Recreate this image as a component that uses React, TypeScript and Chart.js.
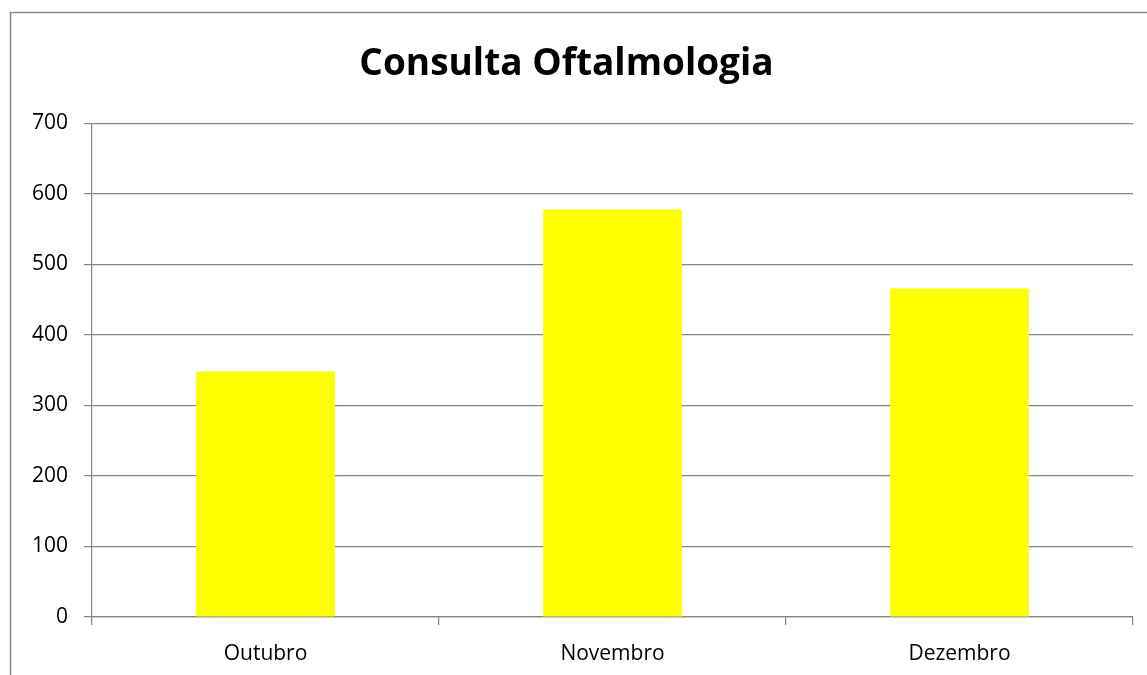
import React, { useEffect, useRef } from "react";
import { Chart, registerables } from "chart.js";

Chart.register(...registerables);

const TITLE = "Consulta Oftalmologia";
const categories = ["Outubro", "Novembro", "Dezembro"];
const consultas = [348, 578, 466];
const yTicks = [0, 100, 200, 300, 400, 500, 600, 700];

const GRAY = "#868686";

const framePlugin = {
  id: "frame",
  beforeDraw(chart: any) {
    const ctx = chart.ctx;
    ctx.save();
    ctx.fillStyle = "#ffffff";
    ctx.fillRect(0, 0, chart.width, chart.height);
    ctx.strokeStyle = GRAY;
    ctx.lineWidth = 1.5;
    ctx.beginPath();
    ctx.moveTo(10.5, chart.height + 5);
    ctx.lineTo(10.5, 12.5);
    ctx.lineTo(chart.width + 5, 12.5);
    ctx.stroke();
    ctx.restore();
  },
};

export default function App() {
  const ref = useRef<HTMLCanvasElement | null>(null);

  useEffect(() => {
    if (!ref.current) return;
    const chart = new Chart(ref.current, {
      type: "bar",
      data: {
        labels: categories,
        datasets: [
          {
            label: TITLE,
            data: consultas,
            backgroundColor: "#ffff00",
            borderWidth: 0,
            barPercentage: 0.4,
            categoryPercentage: 1,
          },
        ],
      },
      options: {
        responsive: false,
        animation: false,
        devicePixelRatio: 1,
        layout: { padding: { top: 0, left: 0, right: 14, bottom: 0 } },
        plugins: {
          legend: { display: false },
          tooltip: { enabled: false },
          title: {
            display: true,
            text: TITLE,
            color: "#000000",
            font: { family: "'Open Sans'", size: 37, weight: "bold", lineHeight: 1.2 },
            padding: { top: 42, bottom: 37 },
          },
        },
        scales: {
          x: {
            grid: {
              offset: true,
              drawOnChartArea: false,
              drawTicks: true,
              tickLength: 8,
              color: GRAY,
              lineWidth: 1.2,
            },
            border: { display: true, color: GRAY, width: 1.2 },
            ticks: {
              color: "#000000",
              font: { family: "'Open Sans'", size: 21 },
              padding: 16,
              maxRotation: 0,
            },
            afterFit: (s: any) => {
              s.height = 58;
            },
          },
          y: {
            min: 0,
            max: 700,
            afterBuildTicks: (s: any) => {
              s.ticks = yTicks.map((v) => ({ value: v }));
            },
            grid: {
              color: GRAY,
              lineWidth: 1.2,
              drawTicks: true,
              tickLength: 8,
            },
            border: { display: true, color: GRAY, width: 1.2 },
            ticks: {
              color: "#000000",
              font: { family: "'Open Sans'", size: 21 },
              padding: 16,
            },
            afterFit: (s: any) => {
              s.width = 92;
            },
          },
        },
      },
      plugins: [framePlugin],
    });
    return () => chart.destroy();
  }, []);

  return (
    <div style={{ position: "fixed", left: 0, top: 0, width: 1147, height: 675 }}>
      <canvas ref={ref} width={1147} height={675} style={{ width: 1147, height: 675, display: "block" }} />
    </div>
  );
}
